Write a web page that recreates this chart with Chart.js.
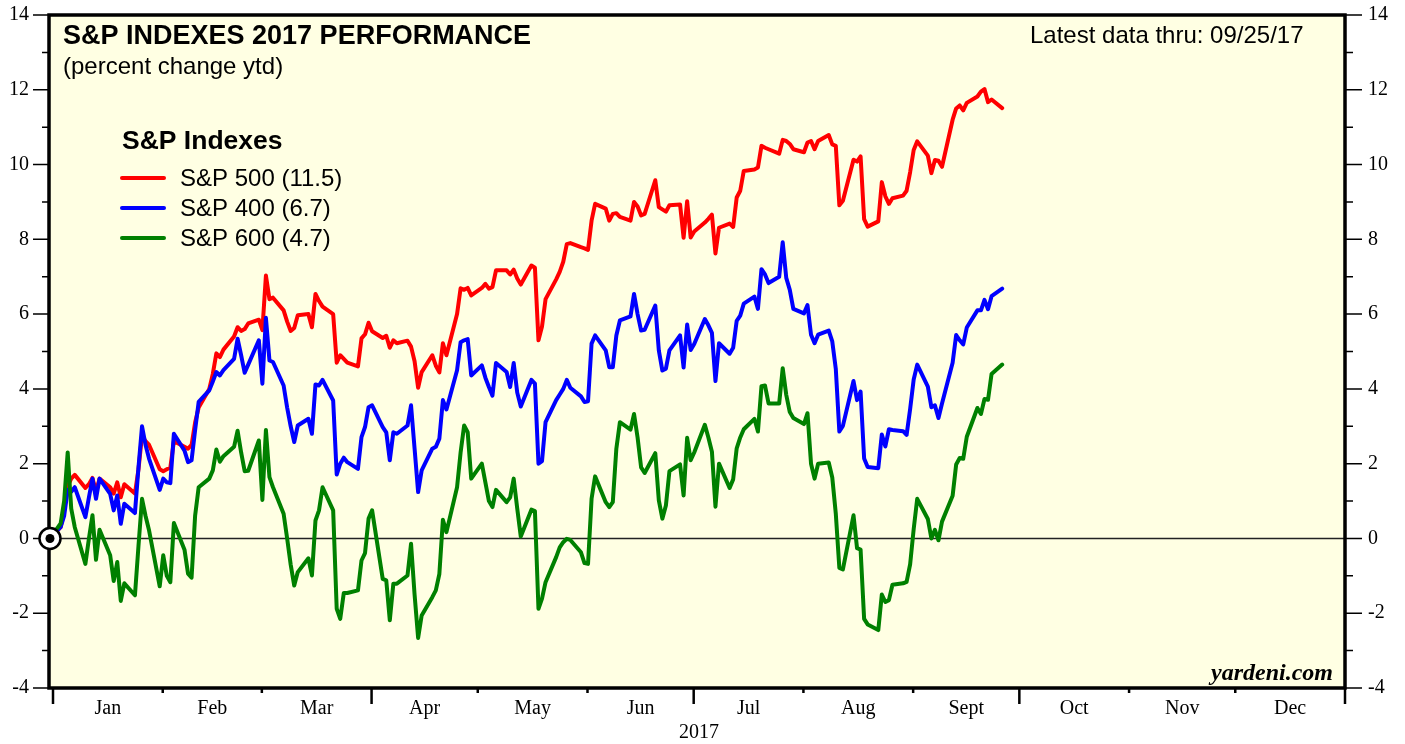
<!DOCTYPE html>
<html><head><meta charset="utf-8">
<script src="https://cdn.jsdelivr.net/npm/chart.js@4.4.0/dist/chart.umd.min.js"></script>
<style>html,body{margin:0;padding:0;background:#fff;overflow:hidden}#wrap{width:1405px;height:744px;position:relative}</style>
</head><body><div id="wrap"><canvas id="c" width="1405" height="744"></canvas></div>
<script>
// ---- DATA (percent change ytd, one value per weekday from 12/30/16 to 09/25/17) ----
const seriesNames = ['S&P 500 (11.5)', 'S&P 400 (6.7)', 'S&P 600 (4.7)'];
const sp500 = [0,
0.3,0.75,1.4,1.6,1.7,1.35,1.45,1.62,1.25,1.6,1.37,1.2,1.5,1.1,1.45,1.2,1.85,2.75,2.6,2.5,1.85,1.8,
1.85,1.9,2.6,2.45,2.4,2.5,3.1,3.5,4.0,4.4,4.95,4.85,5.05,5.4,5.65,5.55,5.6,5.75,5.85,5.57,
7.03,6.4,6.44,6.1,5.8,5.55,5.63,5.97,6.0,5.65,6.54,6.35,6.2,6.0,4.7,4.9,4.8,4.7,4.6,5.35,5.46,5.77,5.54,
5.36,5.42,5.1,5.3,5.22,5.29,5.13,4.74,4.03,4.45,4.9,4.62,4.44,5.22,4.9,6.0,6.69,6.65,6.7,6.5,
6.7,6.81,6.68,6.72,7.17,7.17,7.06,7.19,6.95,6.79,7.3,7.24,5.3,5.67,6.4,6.93,7.13,7.4,7.87,7.9,7.79,7.76,7.72,
8.5,8.95,8.82,8.5,8.68,8.7,8.6,8.5,9.0,8.88,8.64,8.68,9.58,8.86,8.8,8.74,8.91,8.93,8.04,9.02,8.05,8.21,
8.45,8.55,8.66,7.62,8.31,8.42,8.33,9.12,9.3,9.83,9.87,9.92,10.5,10.45,10.41,10.29,10.66,10.63,10.55,10.41,10.33,
10.59,10.63,10.41,10.63,10.79,10.54,10.5,8.91,9.03,10.13,10.08,10.22,8.54,8.34,8.48,9.53,9.15,8.95,9.1,9.17,9.3,9.8,10.39,
10.62,10.24,9.77,10.12,10.1,9.94,11.2,11.5,11.58,11.45,11.65,11.82,11.95,12.02,11.67,11.74,11.51];
const sp400 = [0,
0.3,0.6,1.3,1.25,1.37,0.57,1.1,1.6,1.06,1.6,1.19,0.75,1.15,0.39,0.93,0.68,1.9,3.0,2.5,2.13,1.3,1.6,
1.5,1.48,2.8,2.35,2.04,2.09,2.9,3.65,3.96,4.2,4.45,4.36,4.5,4.8,5.34,4.9,4.43,4.65,5.3,4.14,
5.9,4.76,4.72,4.09,3.5,3.0,2.58,3.02,3.2,2.8,4.12,4.09,4.24,3.69,1.71,2.0,2.16,2.04,1.86,2.71,2.98,3.51,3.56,
2.98,2.84,2.09,2.84,2.8,3.02,3.56,2.4,1.24,1.82,2.4,2.45,2.67,3.7,3.45,4.5,5.25,5.3,5.33,4.36,
4.63,4.3,4.05,3.82,4.69,4.45,4.05,4.69,3.9,3.53,4.24,4.14,2.0,2.07,3.11,3.7,3.85,4.0,4.24,4.03,3.8,3.65,3.67,
5.21,5.43,5.03,4.58,4.58,5.43,5.83,5.94,6.54,6.0,5.56,5.58,6.23,5.03,4.49,4.54,5.03,5.43,4.57,5.72,5.04,5.2,
5.87,5.7,5.5,4.21,5.22,4.94,5.1,5.82,5.96,6.28,6.47,6.14,7.2,7.06,6.83,7.0,7.92,6.97,6.65,6.14,6.02,
6.24,5.45,5.22,5.45,5.56,5.27,4.53,2.86,3.01,4.21,3.7,3.93,2.14,1.91,1.88,2.78,2.46,2.92,2.9,2.87,2.77,3.46,4.25,
4.65,4.06,3.51,3.56,3.22,3.61,4.7,5.44,5.3,5.19,5.64,6.1,6.1,6.38,6.13,6.48,6.68];
const sp600 = [0,
0.4,1.0,2.3,0.8,0.3,-0.68,0.0,0.62,-0.57,0.23,-0.45,-1.14,-0.63,-1.67,-1.2,-1.52,-0.2,1.06,0.6,0.21,-1.28,-0.45,
-1.0,-1.17,0.41,-0.3,-0.94,-1.05,0.61,1.37,1.6,1.82,2.38,2.05,2.2,2.45,2.88,2.3,1.8,1.81,2.62,1.03,
2.9,1.64,1.37,0.66,0.0,-0.7,-1.26,-0.9,-0.53,-0.99,0.48,0.75,1.37,0.75,-1.88,-2.15,-1.46,-1.46,-1.39,-0.59,-0.39,0.53,0.75,
-1.08,-1.12,-2.19,-1.21,-1.21,-0.99,-0.14,-1.5,-2.66,-2.06,-1.57,-1.39,-0.95,0.5,0.17,1.37,2.3,3.02,2.84,1.6,
2.0,1.5,1.0,0.84,1.3,0.97,1.1,1.6,0.8,0.05,0.77,0.73,-1.88,-1.61,-1.17,-0.5,-0.24,-0.1,-0.01,-0.04,-0.37,-0.66,-0.68,
1.06,1.66,0.97,0.84,0.97,2.4,3.11,2.91,3.33,2.7,1.9,1.75,2.28,1.02,0.53,0.88,1.8,1.98,1.15,2.69,2.09,2.3,
3.04,2.7,2.32,0.85,2.0,1.35,1.58,2.41,2.7,2.92,3.2,2.86,4.07,4.09,3.61,3.61,4.55,3.84,3.38,3.22,3.06,
3.35,2.0,1.6,2.0,2.03,1.63,0.66,-0.79,-0.83,0.62,-0.26,-0.3,-2.15,-2.3,-2.45,-1.5,-1.7,-1.65,-1.24,-1.2,-1.16,-0.69,0.25,
1.06,0.52,0.0,0.23,-0.05,0.45,1.14,1.98,2.15,2.13,2.72,3.49,3.33,3.73,3.71,4.4,4.65];
const monthLabels = ['Jan','Feb','Mar','Apr','May','Jun','Jul','Aug','Sept','Oct','Nov','Dec'];
const yTickValues = [-4,-2,0,2,4,6,8,10,12,14];
const yearLabel = '2017';
const firstDate = [2016,11,30], lastDate = [2017,8,25];

// ---- weekday calendar -> day of year 2017 ----
const DAY = 86400000, JAN1 = Date.UTC(2017,0,1);
const days = [];
for (let t = Date.UTC(...firstDate); t <= Date.UTC(...lastDate); t += DAY) {
  const wd = new Date(t).getUTCDay();
  if (wd === 0 || wd === 6) continue;
  days.push((t - JAN1) / DAY);
}
const PLOT_SHIFT = 1.15; // the source plots each day slightly right of its calendar tick
const pts = arr => arr.map((v,i) => ({x: days[i] + PLOT_SHIFT, y: v}));

const colors = ['#ff0000','#0000ff','#008000'];
const serif = '"Liberation Serif", "Times New Roman", serif';
const sans = '"Liberation Sans", Arial, Helvetica, sans-serif';

const deco = {
  id:'deco',
  beforeDraw(c){
    const g=c.ctx, a=c.chartArea;
    g.save(); g.fillStyle='#fff'; g.fillRect(0,0,c.width,c.height);
    g.fillStyle='#ffffe3'; g.fillRect(a.left,a.top,a.right-a.left,a.bottom-a.top); g.restore();
  },
  beforeDatasetsDraw(c){
    const g=c.ctx, a=c.chartArea, y=c.scales.y.getPixelForValue(0);
    g.save(); g.strokeStyle='#222'; g.lineWidth=1.5;
    g.beginPath(); g.moveTo(a.left,y); g.lineTo(a.right,y); g.stroke(); g.restore();
  },
  afterDraw(c){
    const g=c.ctx, a=c.chartArea, xs=c.scales.x, ys=c.scales.y;
    g.save();
    // frame
    g.strokeStyle='#000'; g.lineWidth=3.5;
    g.strokeRect(a.left,a.top,a.right-a.left,a.bottom-a.top);
    // y ticks both sides
    g.lineWidth=1.5;
    g.font='20px '+serif; g.fillStyle='#000'; g.textBaseline='middle';
    for(let v=-4; v<=14; v++){
      const y=ys.getPixelForValue(v), major = yTickValues.includes(v);
      g.beginPath(); g.moveTo(a.left-(major?16:7),y); g.lineTo(a.left,y);
      g.moveTo(a.right,y); g.lineTo(a.right+(major?17:8),y); g.stroke();
      if(major){
        g.textAlign='right'; g.fillText(String(v), a.left-20, y);
        g.textAlign='left'; g.fillText(String(v), a.right+23, y);
      }
    }
    // x month ticks
    g.lineWidth=2.5;
    for(let m=0;m<=12;m++){
      const d=(Date.UTC(2017,m,1)-JAN1)/DAY, x=xs.getPixelForValue(d);
      const L = (m%3===0)?16:5;
      g.beginPath(); g.moveTo(x,a.bottom); g.lineTo(x,a.bottom+L); g.stroke();
    }
    g.font='20px '+serif; g.textAlign='center'; g.textBaseline='middle';
    for(let m=0;m<12;m++){
      const d0=(Date.UTC(2017,m,1)-JAN1)/DAY, d1=(Date.UTC(2017,m+1,1)-JAN1)/DAY;
      g.fillText(monthLabels[m], xs.getPixelForValue((d0+d1)/2), a.bottom+21);
    }
    g.fillText(yearLabel, xs.getPixelForValue(182.5), a.bottom+45);
    // titles
    g.textAlign='left'; g.textBaseline='alphabetic';
    g.font='bold 27px '+sans; g.fillText('S&P INDEXES 2017 PERFORMANCE', 63, 44);
    g.font='24px '+sans; g.fillText('(percent change ytd)', 63, 74);
    g.fillText('Latest data thru: 09/25/17', 1030, 43);
    // legend
    g.font='bold 26.5px '+sans; g.fillText('S&P Indexes', 122, 149);
    g.font='24px '+sans;
    const ly=[178,208,238];
    for(let i=0;i<3;i++){
      g.strokeStyle=colors[i]; g.lineWidth=4; g.lineCap='round';
      g.beginPath(); g.moveTo(122,ly[i]); g.lineTo(164,ly[i]); g.stroke();
      g.fillStyle='#000'; g.textBaseline='middle'; g.fillText(seriesNames[i], 180, ly[i]+1);
    }
    // source
    g.textAlign='right'; g.textBaseline='alphabetic';
    g.font='italic bold 24px '+serif; g.fillText('yardeni.com', 1333, 680);
    // origin marker at first data point
    const ox=xs.getPixelForValue(days[0]+PLOT_SHIFT), oy=ys.getPixelForValue(0);
    g.fillStyle='#fff'; g.strokeStyle='#000'; g.lineWidth=2.5;
    g.beginPath(); g.arc(ox,oy,10.5,0,Math.PI*2); g.fill(); g.stroke();
    g.fillStyle='#000'; g.beginPath(); g.arc(ox,oy,4.5,0,Math.PI*2); g.fill();
    g.restore();
  }
};

new Chart(document.getElementById('c'), {
  type:'line',
  data:{datasets:[
    {label:seriesNames[0], data:pts(sp500), borderColor:colors[0], order:3},
    {label:seriesNames[1], data:pts(sp400), borderColor:colors[1], order:2},
    {label:seriesNames[2], data:pts(sp600), borderColor:colors[2], order:1}
  ]},
  options:{
    responsive:false, animation:false, devicePixelRatio:1,
    layout:{padding:{left:49,right:60,top:15,bottom:56}},
    elements:{line:{borderWidth:4,tension:0,borderJoinStyle:'round',borderCapStyle:'round',fill:false},point:{radius:0}},
    scales:{
      x:{type:'linear',min:-1.13,max:365,display:false},
      y:{type:'linear',min:-4,max:14,display:false}
    },
    plugins:{legend:{display:false},tooltip:{enabled:false}}
  },
  plugins:[deco]
});
</script></body></html>
